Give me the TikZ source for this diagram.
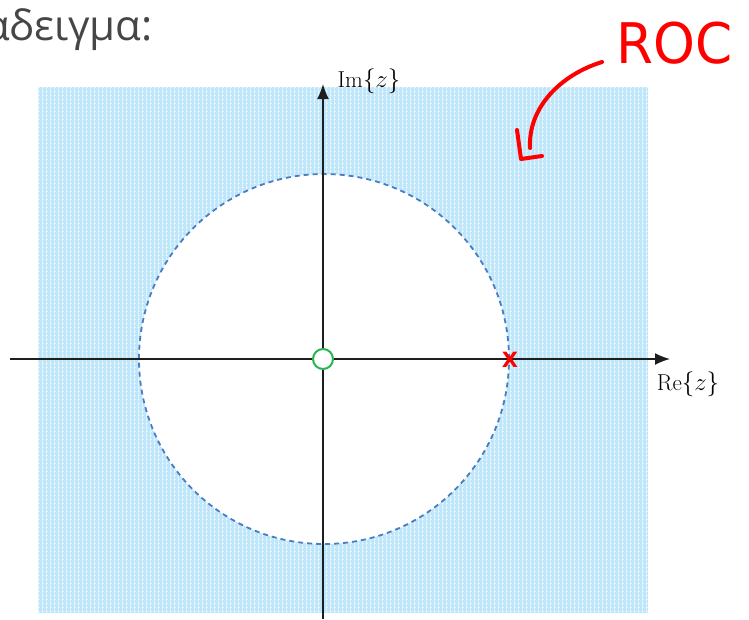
\documentclass[tikz,border=0pt]{standalone}
\usepackage{fontspec}
\newfontfamily\greekfont{Open Sans}
\newfontfamily\rocfont{DejaVu Sans}
\usetikzlibrary{arrows.meta}
\definecolor{rocblue}{RGB}{190,230,250}
\definecolor{dashblue}{RGB}{70,125,195}
\definecolor{axisgray}{RGB}{30,30,30}
\definecolor{zerogreen}{RGB}{40,180,80}
\definecolor{titlegray}{RGB}{70,70,70}
\tikzset{
  axis/.style={draw=axisgray, line width=1.6pt, -{Latex[length=15pt,width=12pt]}},
  axlabel/.style={font=\fontsize{23}{23}\selectfont, inner sep=0pt},
  handred/.style={draw=red, line width=4pt, line cap=round, line join=round},
}
\begin{document}
\begin{tikzpicture}[x=1pt,y=-1pt]
\useasboundingbox (0,0) rectangle (749,619);
\clip (0,0) rectangle (749,619);
% ROC region
\fill[rocblue] (38,87) rectangle (648,613);
\begin{scope}
\clip (38,87) rectangle (648,613);
\foreach \i in {0,...,152} {\draw[white, line width=1pt, opacity=0.5] (38+4*\i,87) -- (38+4*\i,613);}
\foreach \j in {0,...,131} {\draw[white, line width=1pt, opacity=0.5, dash pattern=on 2pt off 2pt] (38,87+4*\j) -- (648,87+4*\j);}
\end{scope}
% unit circle region (excluded)
\node (circ) [circle, minimum size=370pt, inner sep=0pt, fill=white, draw=dashblue, line width=1.8pt, dash pattern=on 5pt off 4pt] at (324,359) {};
% axes
\coordinate (xstart) at (10,359);
\coordinate (xend) at (670,359);
\coordinate (ystart) at (323,619);
\coordinate (yend) at (323,84);
\draw[axis] (xstart) -- (xend);
\draw[axis] (ystart) -- (yend);
\node (im) [axlabel] at (369,81) {$\mathrm{Im}\{z\}$};
\node (re) [axlabel] at (688,384) {$\mathrm{Re}\{z\}$};
% zero and pole
\node (zero) [circle, minimum size=20pt, inner sep=0pt, draw=zerogreen, line width=2pt, fill=white] at (323,359) {};
\node (pole) [text=red, font=\rocfont\bfseries\fontsize{21}{21}\selectfont, inner sep=0pt] at (510,360) {X};
% title
\node (title) [anchor=base east, inner sep=0pt, text=titlegray, font=\greekfont\fontsize{42}{42}\selectfont] at (153,40) {αδειγμα:};
% ROC annotation
\node (roc) [anchor=base west, inner sep=0pt, text=red, font=\rocfont\fontsize{56}{56}\selectfont, xscale=0.95] at (616,63) {ROC};
\coordinate (arrstart) at (602,62);
\coordinate (arrend) at (530,148);
\draw[handred] (arrstart) .. controls (560,75) and (528,108) .. (arrend);
\coordinate (h1) at (517,130);
\coordinate (h2) at (521,159);
\coordinate (h3) at (542,156);
\draw[handred] (h1) -- (h2) -- (h3);
\end{tikzpicture}
\end{document}
